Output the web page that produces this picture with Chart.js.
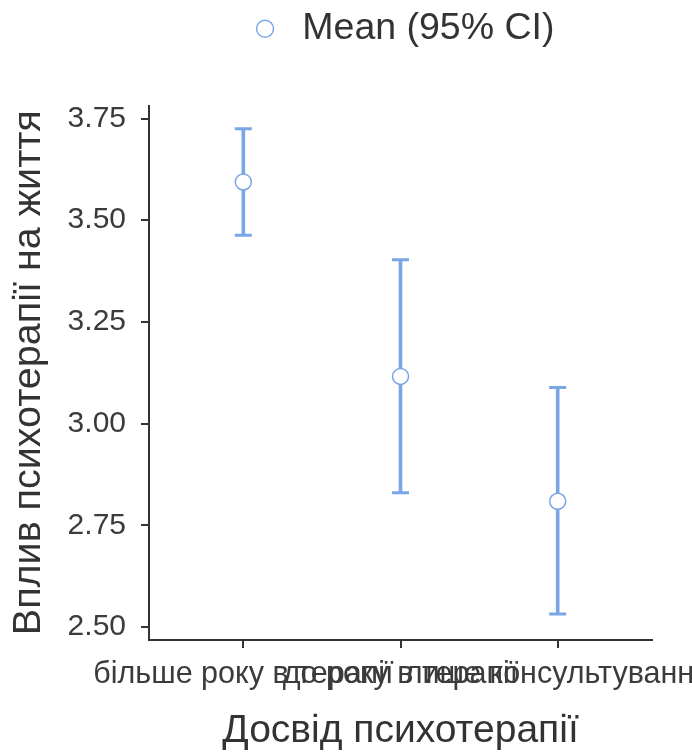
<!DOCTYPE html>
<html>
<head>
<meta charset="utf-8">
<script src="https://cdn.jsdelivr.net/npm/chart.js@4.4.1/dist/chart.umd.min.js"></script>
<style>
  html, body { margin: 0; padding: 0; background: #fff; }
  #wrap { width: 692px; height: 752px; }
</style>
</head>
<body>
<div id="wrap"><canvas id="ciChart" width="692" height="752"></canvas></div>
<script>
const categories = ['більше року в терапії', 'до року в терапії', 'лише консультування'];
const means = [3.594, 3.116, 2.809];
const ciLower = [3.463, 2.830, 2.532];
const ciUpper = [3.725, 3.403, 3.089];
const yTicks = [2.50, 2.75, 3.00, 3.25, 3.50, 3.75];

const blue = '#7aa6e6';
const axisColor = '#333333';
const fontFamily = "'Liberation Sans', Arial, Helvetica, sans-serif";

Chart.defaults.font.family = fontFamily;
Chart.defaults.color = '#3b3b3b';

const ctx = document.getElementById('ciChart').getContext('2d');

new Chart(ctx, {
    type: 'scatter',
    data: {
        datasets: [
            {
                type: 'scatter',
                label: 'Mean (95% CI)',
                data: means.map((m, i) => ({ x: i, y: m })),
                pointStyle: 'circle',
                pointRadius: 8,
                pointBackgroundColor: '#ffffff',
                pointBorderColor: blue,
                pointBorderWidth: 1.5,
                backgroundColor: '#ffffff',
                borderColor: blue,
                showLine: false,
                order: 0
            },
            {
                // caps of the error bars
                type: 'scatter',
                label: 'caps',
                data: ciUpper.map((v, i) => ({ x: i, y: v }))
                    .concat(ciLower.map((v, i) => ({ x: i, y: v }))),
                pointStyle: 'line',
                pointRadius: 8.5,
                pointBorderColor: blue,
                pointBorderWidth: 3,
                borderColor: blue,
                showLine: false,
                order: 1
            },
            {
                // vertical part of the error bars
                type: 'bar',
                label: 'ci',
                data: categories.map((c, i) => ({ x: i, y: [ciLower[i], ciUpper[i]] })),
                backgroundColor: blue,
                borderWidth: 0,
                barThickness: 3,
                order: 2
            }
        ]
    },
    options: {
        responsive: false,
        animation: false,
        events: [],
        layout: {
            padding: { top: 0, right: 40, bottom: 0, left: 0 }
        },
        scales: {
            x: {
                type: 'linear',
                min: -0.6,
                max: 2.6,
                offset: false,
                afterBuildTicks: (scale) => {
                    scale.ticks = categories.map((c, i) => ({ value: i }));
                },
                afterFit: (scale) => {
                    scale.height = 112;
                    scale.paddingLeft = 0;
                    scale.paddingRight = 0;
                },
                ticks: {
                    autoSkip: false,
                    maxRotation: 0,
                    minRotation: 0,
                    padding: 8,
                    color: '#3b3b3b',
                    font: { size: 30.5 },
                    callback: (value) => categories[value]
                },
                grid: {
                    offset: false,
                    drawOnChartArea: false,
                    drawTicks: true,
                    tickLength: 8,
                    lineWidth: 2,
                    color: axisColor
                },
                border: { display: true, color: axisColor, width: 2 },
                title: {
                    display: true,
                    text: 'Досвід психотерапії',
                    color: '#333333',
                    font: { size: 39, lineHeight: 1 },
                    padding: { top: 0, bottom: 1 }
                }
            },
            y: {
                type: 'linear',
                min: 2.468,
                max: 3.782,
                afterBuildTicks: (scale) => {
                    scale.ticks = yTicks.map(v => ({ value: v }));
                },
                afterFit: (scale) => {
                    scale.width = 149;
                    scale.paddingTop = 0;
                    scale.paddingBottom = 0;
                },
                ticks: {
                    padding: 15,
                    color: '#3b3b3b',
                    font: { size: 30 },
                    callback: (value) => Number(value).toFixed(2)
                },
                grid: {
                    drawOnChartArea: false,
                    drawTicks: true,
                    tickLength: 8,
                    lineWidth: 2,
                    color: axisColor
                },
                border: { display: true, color: axisColor, width: 2 },
                title: {
                    display: true,
                    text: 'Вплив психотерапії на життя',
                    color: '#333333',
                    font: { size: 39.5, lineHeight: 1 },
                    padding: { top: 9, bottom: 0 }
                }
            }
        },
        plugins: {
            legend: {
                display: true,
                position: 'top',
                fullSize: false,
                labels: {
                    usePointStyle: true,
                    boxWidth: 37,
                    boxHeight: 12,
                    padding: 10,
                    color: '#333333',
                    font: { size: 37.5 },
                    filter: (item) => item.datasetIndex === 0
                }
            },
            // empty title used as a spacer under the legend
            title: {
                display: true,
                text: '',
                position: 'top',
                weight: 500,
                fullSize: false,
                font: { size: 10, lineHeight: 1 },
                padding: { top: 0, bottom: 38 }
            },
            tooltip: { enabled: false }
        }
    }
});
</script>
</body>
</html>
